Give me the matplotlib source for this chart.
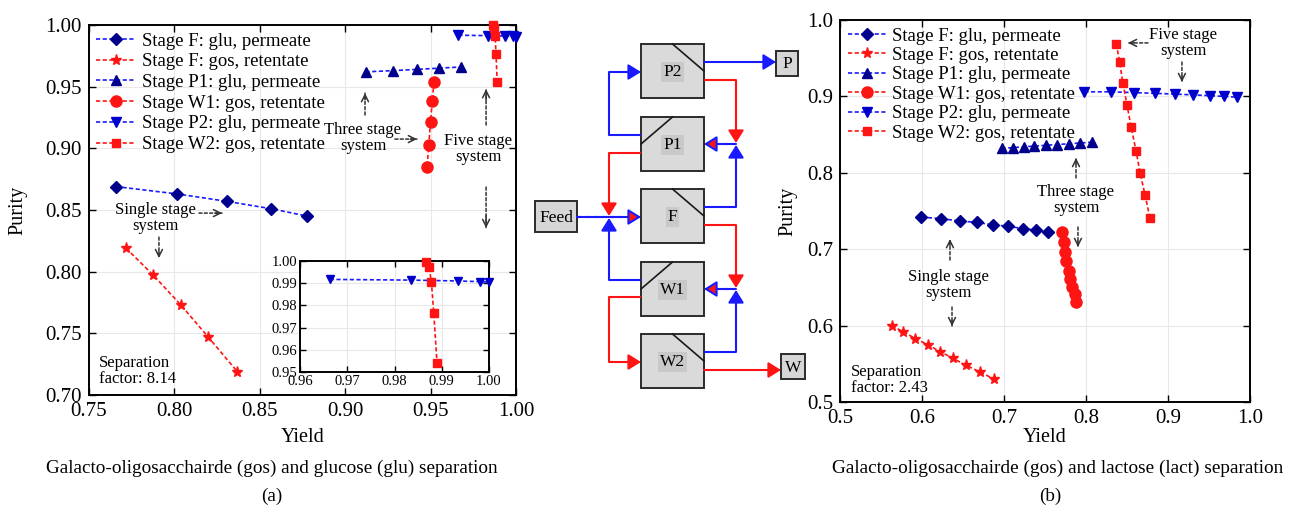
import matplotlib
matplotlib.use("Agg")
import matplotlib.pyplot as plt
from matplotlib.patches import Rectangle
from matplotlib.ticker import FormatStrFormatter, MultipleLocator

plt.rcParams['font.family'] = ['Liberation Serif', 'DejaVu Serif']

# (a) gos / glu separation
a_f_glu_x = [0.766, 0.802, 0.831, 0.857, 0.878]
a_f_glu_y = [0.869, 0.863, 0.857, 0.851, 0.845]
a_f_gos_x = [0.772, 0.788, 0.804, 0.820, 0.837]
a_f_gos_y = [0.819, 0.797, 0.773, 0.747, 0.719]
a_p1_glu_x = [0.912, 0.928, 0.942, 0.955, 0.968]
a_p1_glu_y = [0.962, 0.963, 0.964, 0.965, 0.966]
a_w1_gos_x = [0.952, 0.951, 0.950, 0.949, 0.948]
a_w1_gos_y = [0.954, 0.938, 0.921, 0.903, 0.885]
a_p2_glu_x = [0.9663, 0.9834, 0.9935, 0.9981, 0.9999]
a_p2_glu_y = [0.9917, 0.9914, 0.9910, 0.9907, 0.9905]
a_w2_gos_x = [0.9867, 0.9873, 0.9878, 0.9883, 0.9890]
a_w2_gos_y = [0.9997, 0.9974, 0.9907, 0.9768, 0.9541]

# (b) gos / lactose separation
b_f_glu_x = [0.599, 0.623, 0.646, 0.667, 0.686, 0.705, 0.723, 0.739, 0.754]
b_f_glu_y = [0.742, 0.740, 0.737, 0.735, 0.732, 0.730, 0.727, 0.725, 0.722]
b_f_gos_x = [0.563, 0.577, 0.592, 0.607, 0.622, 0.638, 0.654, 0.671, 0.688]
b_f_gos_y = [0.600, 0.592, 0.583, 0.575, 0.566, 0.557, 0.548, 0.539, 0.530]
b_p1_glu_x = [0.697, 0.711, 0.724, 0.737, 0.751, 0.765, 0.779, 0.793, 0.807]
b_p1_glu_y = [0.832, 0.833, 0.834, 0.835, 0.836, 0.837, 0.838, 0.839, 0.840]
b_w1_gos_x = [0.771, 0.773, 0.774, 0.776, 0.779, 0.781, 0.783, 0.786, 0.788]
b_w1_gos_y = [0.723, 0.710, 0.696, 0.684, 0.672, 0.661, 0.650, 0.641, 0.631]
b_p2_glu_x = [0.798, 0.830, 0.858, 0.884, 0.909, 0.930, 0.951, 0.968, 0.984]
b_p2_glu_y = [0.906, 0.906, 0.905, 0.904, 0.903, 0.902, 0.901, 0.900, 0.899]
b_w2_gos_x = [0.837, 0.841, 0.845, 0.850, 0.855, 0.861, 0.866, 0.872, 0.878]
b_w2_gos_y = [0.969, 0.945, 0.917, 0.889, 0.860, 0.829, 0.800, 0.771, 0.741]

labels = ['Stage F: glu, permeate', 'Stage F: gos, retentate',
          'Stage P1: glu, permeate', 'Stage W1: gos, retentate',
          'Stage P2: glu, permeate', 'Stage W2: gos, retentate']

BLUE = '#1a1aff'
NAVY = '#00008c'
RED = '#ff1414'
W, H = 1293, 514

# marker, size, line colour, marker colour
styles = [('D', 6, BLUE, NAVY), ('*', 8, RED, RED), ('^', 7.5, BLUE, NAVY),
          ('o', 8, RED, RED), ('v', 7.5, BLUE, '#0000cc'), ('s', 5.5, RED, RED)]

fig = plt.figure(figsize=(W / 100, H / 100), dpi=100)


def px_axes(x0, y0, x1, y1):
    return fig.add_axes([x0 / W, 1 - y1 / H, (x1 - x0) / W, (y1 - y0) / H])


def style_axes(ax, size):
    ax.tick_params(direction='in', top=True, right=True, length=5, width=1,
                   labelsize=size, pad=5)
    for s in ax.spines.values():
        s.set_linewidth(1.4)
    ax.grid(True, color='#e8e8e8', lw=0.8)
    ax.set_axisbelow(True)


def draw_series(ax, xs, ys, i, ms_scale=1.0, label=None):
    m, ms, lc, mc = styles[i]
    ax.plot(xs, ys, ls=(0, (2.5, 1.5)), lw=1.2, color=lc, marker=m,
            ms=ms * ms_scale, mfc=mc, mec=mc, label=label, clip_on=False,
            zorder=3)


def note(ax, txt, xy, ha='center'):
    ax.text(xy[0], xy[1], txt, ha=ha, va='center', fontsize=12,
            linespacing=1.0, zorder=4)


def note_arrow(ax, tail, tip):
    ax.annotate('', xy=tip, xytext=tail,
                arrowprops=dict(arrowstyle='-', ls=(0, (2, 1.5)),
                                color='#333333', lw=1.1, shrinkA=0, shrinkB=0))
    near = (tip[0] + 0.3 * (tail[0] - tip[0]), tip[1] + 0.3 * (tail[1] - tip[1]))
    ax.annotate('', xy=tip, xytext=near,
                arrowprops=dict(arrowstyle='->,head_length=0.5,head_width=0.25',
                                color='#333333', lw=1.1, shrinkA=0, shrinkB=0))


# ---------------- (a) ----------------
axa = px_axes(88.5, 25, 516, 395)
a_sets = [(a_f_glu_x, a_f_glu_y), (a_f_gos_x, a_f_gos_y), (a_p1_glu_x, a_p1_glu_y),
          (a_w1_gos_x, a_w1_gos_y), (a_p2_glu_x, a_p2_glu_y), (a_w2_gos_x, a_w2_gos_y)]
for i, (xs, ys) in enumerate(a_sets):
    draw_series(axa, xs, ys, i, label=labels[i])
axa.set_xlim(0.75, 1.00)
axa.set_ylim(0.70, 1.00)
axa.xaxis.set_major_locator(MultipleLocator(0.05))
axa.yaxis.set_major_locator(MultipleLocator(0.05))
axa.xaxis.set_major_formatter(FormatStrFormatter('%.2f'))
axa.yaxis.set_major_formatter(FormatStrFormatter('%.2f'))
style_axes(axa, 15)
axa.set_xlabel('Yield', fontsize=14.5)
axa.set_ylabel('Purity', fontsize=14.5)
axa.xaxis.set_label_coords(0.5, -0.089)
axa.yaxis.set_label_coords(-0.144, 0.5)
axa.legend(loc='upper left', frameon=False, fontsize=13.5, numpoints=1,
           handlelength=2.15, handletextpad=0.3, labelspacing=0.19,
           borderaxespad=0.2, borderpad=0.2)

note(axa, 'Single stage\nsystem', (0.7889, 0.8435))
note_arrow(axa, (0.8146, 0.8475), (0.8281, 0.8475))
note_arrow(axa, (0.7912, 0.828), (0.7912, 0.811))
note(axa, 'Three stage\nsystem', (0.9105, 0.9084))
note_arrow(axa, (0.9117, 0.927), (0.9117, 0.9448))
note_arrow(axa, (0.9292, 0.9075), (0.9421, 0.9075))
note(axa, 'Five stage\nsystem', (0.9778, 0.8994))
note_arrow(axa, (0.9825, 0.9189), (0.9825, 0.948))
note_arrow(axa, (0.9825, 0.8686), (0.9825, 0.8354))
note(axa, 'Separation\nfactor: 8.14', (0.7561, 0.7194), ha='left')

# inset
axi = px_axes(300, 261, 489, 372)
draw_series(axi, a_p2_glu_x, a_p2_glu_y, 4, ms_scale=0.85)
draw_series(axi, a_w2_gos_x, a_w2_gos_y, 5, ms_scale=1.0)
axi.set_xlim(0.96, 1.00)
axi.set_ylim(0.95, 1.00)
axi.xaxis.set_major_locator(MultipleLocator(0.01))
axi.yaxis.set_major_locator(MultipleLocator(0.01))
axi.xaxis.set_major_formatter(FormatStrFormatter('%.2f'))
axi.yaxis.set_major_formatter(FormatStrFormatter('%.2f'))
style_axes(axi, 10.5)
axi.tick_params(length=4, pad=2)

# ---------------- (b) ----------------
axb = px_axes(840, 20, 1250, 402)
b_sets = [(b_f_glu_x, b_f_glu_y), (b_f_gos_x, b_f_gos_y), (b_p1_glu_x, b_p1_glu_y),
          (b_w1_gos_x, b_w1_gos_y), (b_p2_glu_x, b_p2_glu_y), (b_w2_gos_x, b_w2_gos_y)]
for i, (xs, ys) in enumerate(b_sets):
    draw_series(axb, xs, ys, i, label=labels[i])
axb.set_xlim(0.5, 1.0)
axb.set_ylim(0.5, 1.0)
axb.xaxis.set_major_locator(MultipleLocator(0.1))
axb.yaxis.set_major_locator(MultipleLocator(0.1))
axb.xaxis.set_major_formatter(FormatStrFormatter('%.1f'))
axb.yaxis.set_major_formatter(FormatStrFormatter('%.1f'))
style_axes(axb, 15)
axb.set_xlabel('Yield', fontsize=14.5)
axb.set_ylabel('Purity', fontsize=14.5)
axb.xaxis.set_label_coords(0.5, -0.068)
axb.yaxis.set_label_coords(-0.105, 0.5)
axb.legend(loc='upper left', frameon=False, fontsize=13.5, numpoints=1,
           handlelength=2.1, handletextpad=0.3, labelspacing=0.12,
           borderaxespad=0.2, borderpad=0.2)

note(axb, 'Five stage\nsystem', (0.9183, 0.970))
note_arrow(axb, (0.8756, 0.970), (0.8512, 0.970))
note_arrow(axb, (0.917, 0.945), (0.917, 0.9188))
note(axb, 'Three stage\nsystem', (0.7878, 0.7644))
note_arrow(axb, (0.7878, 0.7932), (0.7878, 0.8194))
note_arrow(axb, (0.7902, 0.729), (0.7902, 0.7029))
note(axb, 'Single stage\nsystem', (0.6317, 0.6531))
note_arrow(axb, (0.6341, 0.6858), (0.6341, 0.7133))
note_arrow(axb, (0.6366, 0.6243), (0.6366, 0.5994))
note(axb, 'Separation\nfactor: 2.43', (0.5134, 0.5288), ha='left')

# ---------------- process diagram ----------------
dg = px_axes(530, 35, 810, 395)
dg.set_xlim(530, 810)
dg.set_ylim(395, 35)
dg.axis('off')

stage_names = ['P2', 'P1', 'F', 'W1', 'W2']
stage_tops = [44, 117, 189, 262, 334]
BX, BW, BH = 641, 63, 54
for name, top in zip(stage_names, stage_tops):
    dg.add_patch(Rectangle((BX, top), BW, BH, fc='#dadada', ec='#2b2b2b', lw=1.4))
    if name in ('P1', 'W1'):
        dg.plot([BX, BX + BW / 2], [top + BH / 2, top], color='#1a1a1a', lw=1.2)
    else:
        dg.plot([BX + BW / 2, BX + BW], [top, top + BH / 2], color='#1a1a1a', lw=1.2)
    dg.text(BX + BW / 2, top + BH / 2 + 1, name, ha='center', va='center', fontsize=12.5,
            bbox=dict(fc='#c9c9c9', ec='none', pad=1.5))

for name, (x0, y0, bw, bh) in {'Feed': (535, 201, 42, 31), 'P': (776, 51, 22, 25),
                               'W': (781, 354, 24, 25)}.items():
    dg.add_patch(Rectangle((x0, y0), bw, bh, fc='#d6d6d6', ec='#2b2b2b', lw=1.4))
    dg.text(x0 + bw / 2, y0 + bh / 2 + 1, name, ha='center', va='center', fontsize=12.5)


def flow(pts, color, mixed=False):
    xs = [p[0] for p in pts]
    ys = [p[1] for p in pts]
    if len(pts) > 2:
        dg.plot(xs[:-1], ys[:-1], color=color, lw=1.5, solid_capstyle='butt')
    ec = BLUE if mixed else color
    dg.annotate('', xy=pts[-1], xytext=pts[-2],
                arrowprops=dict(arrowstyle='-|>,head_length=0.45,head_width=0.28',
                                fc=color, ec=ec, lw=1.5, mutation_scale=17,
                                shrinkA=0, shrinkB=0))
    if mixed:
        dg.plot(xs, ys, color=BLUE, lw=1.5, ls=(0, (2, 2)))


LX, RX = 609, 736
flow([(704, 62), (776, 62)], BLUE)
flow([(704, 80), (RX, 80), (RX, 143)], RED)
flow([(704, 207), (RX, 207), (RX, 145)], BLUE)
flow([(RX, 144), (704, 144)], RED, mixed=True)
flow([(641, 135), (LX, 135), (LX, 72), (641, 72)], BLUE)
flow([(641, 153), (LX, 153), (LX, 216)], RED)
flow([(577, 217), (641, 217)], RED, mixed=True)
flow([(641, 280), (LX, 280), (LX, 218)], BLUE)
flow([(704, 225), (RX, 225), (RX, 288)], RED)
flow([(704, 352), (RX, 352), (RX, 290)], BLUE)
flow([(RX, 289), (704, 289)], RED, mixed=True)
flow([(641, 297), (LX, 297), (LX, 362), (641, 362)], RED)
flow([(704, 370), (781, 370)], RED)

# captions
fig.text(272 / W, 1 - 468 / H, 'Galacto-oligosacchairde (gos) and glucose (glu) separation',
         ha='center', va='center', fontsize=13.8)
fig.text(272 / W, 1 - 496 / H, '(a)', ha='center', va='center', fontsize=13.8)
fig.text(1058 / W, 1 - 468 / H, 'Galacto-oligosacchairde (gos) and lactose (lact) separation',
         ha='center', va='center', fontsize=13.9)
fig.text(1050 / W, 1 - 496 / H, '(b)', ha='center', va='center', fontsize=13.8)

fig.savefig('out.png', dpi=100)
